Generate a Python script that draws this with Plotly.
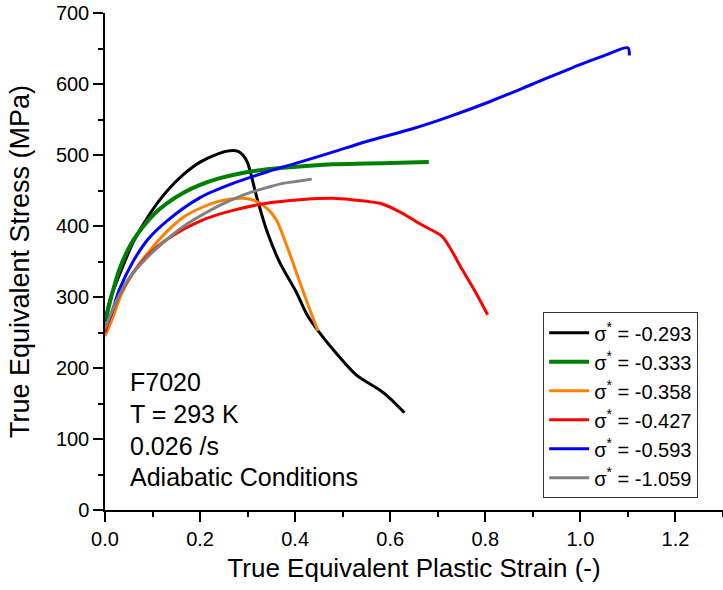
import plotly.graph_objects as go

# ---- data ----
black_x = [0, 0.01, 0.032, 0.06, 0.095, 0.13, 0.164, 0.2, 0.235, 0.263, 0.28, 0.29, 0.300, 0.319, 0.340, 0.368, 0.403, 0.425, 0.452, 0.49, 0.529, 0.578, 0.60, 0.630]
black_y = [265, 295, 334, 378, 418, 449, 472, 490, 501, 506, 505, 500, 489, 441, 394, 348, 306, 275, 249, 218, 190, 169, 157, 137]

green_x = [0, 0.004, 0.015, 0.032, 0.055, 0.080, 0.105, 0.130, 0.165, 0.200, 0.24, 0.284, 0.33, 0.374, 0.43, 0.479, 0.55, 0.62, 0.681]
green_y = [265, 275, 305, 342, 375, 399, 418, 432, 447, 458, 467, 474, 479, 482, 485, 487, 488, 489, 490]

orange_x = [0, 0.017, 0.035, 0.059, 0.095, 0.13, 0.164, 0.20, 0.235, 0.265, 0.290, 0.31, 0.326, 0.345, 0.361, 0.378, 0.396, 0.413, 0.431, 0.448]
orange_y = [245, 272, 305, 334, 366, 392, 412, 425, 434, 438, 439, 437, 432, 422, 408, 380, 347, 315, 282, 252]

red_x = [0, 0.011, 0.03, 0.059, 0.095, 0.130, 0.200, 0.269, 0.340, 0.410, 0.479, 0.520, 0.578, 0.620, 0.668, 0.708, 0.725, 0.752, 0.781, 0.805]
red_y = [250, 272, 302, 334, 362, 381, 407, 422, 432, 437, 439, 437, 432, 420, 401, 386, 370, 338, 305, 275]

blue_x = [0, 0.011, 0.03, 0.059, 0.09, 0.130, 0.200, 0.269, 0.340, 0.410, 0.479, 0.550, 0.647, 0.72, 0.809, 0.90, 0.998, 1.05, 1.10, 1.103]
blue_y = [258, 272, 310, 350, 381, 407, 440, 460, 476, 490, 504, 519, 537, 553, 575, 600, 627, 640, 651, 640]

gray_x = [0, 0.01, 0.025, 0.05, 0.095, 0.13, 0.164, 0.2, 0.235, 0.27, 0.305, 0.34, 0.374, 0.405, 0.435]
gray_y = [255, 272, 296, 326, 360, 381, 399, 414, 427, 438, 447, 454, 460, 463, 466]

series_names = ["-0.293", "-0.333", "-0.358", "-0.427", "-0.593", "-1.059"]
series_colors = ["#000000", "#008000", "#FF8000", "#FF0000", "#0000FF", "#808080"]
series_x = [black_x, green_x, orange_x, red_x, blue_x, gray_x]
series_y = [black_y, green_y, orange_y, red_y, blue_y, gray_y]
series_widths = [3, 4, 3, 3, 3, 3]

info_lines = ["F7020", "T = 293 K", "0.026 /s", "Adiabatic Conditions"]
info_y = [180.7, 135, 90, 46.5]

FONT = "Liberation Sans, Arial, sans-serif"

fig = go.Figure()
for nm, c, xs, ys, w in zip(series_names, series_colors, series_x, series_y, series_widths):
    fig.add_trace(go.Scatter(
        x=xs, y=ys, mode="lines", name="σ<sup>*</sup> = " + nm,
        line=dict(color=c, width=w, shape="spline", smoothing=0.8),
    ))

for t, yy in zip(info_lines, info_y):
    fig.add_annotation(x=0.037, xref="paper", y=yy, yref="y", text=t,
                       showarrow=False, xanchor="left", yanchor="middle",
                       font=dict(family=FONT, size=25, color="black"))

fig.update_layout(
    width=723, height=590,
    margin=dict(l=105, r=0, t=13, b=80, autoexpand=False),
    paper_bgcolor="white", plot_bgcolor="white",
    font=dict(family=FONT, color="black"),
    showlegend=True,
    legend=dict(x=0.709, y=0.398, xanchor="left", yanchor="top",
                bordercolor="#333333", borderwidth=1, bgcolor="white",
                font=dict(family=FONT, size=20, color="black"),
                tracegroupgap=0, itemwidth=40),
)
fig.update_xaxes(
    range=[0, 1.3], dtick=0.2, tick0=0, tickformat=".1f", automargin=False,
    showline=True, linecolor="black", linewidth=1.5, mirror=False,
    ticks="outside", ticklen=10, tickwidth=1.5, tickcolor="black",
    minor=dict(dtick=0.1, ticks="outside", ticklen=5, tickwidth=1.5, tickcolor="black"),
    showgrid=False, zeroline=False,
    tickfont=dict(family=FONT, size=20, color="black"),
    title=dict(text="True Equivalent Plastic Strain (-)", font=dict(family=FONT, size=26, color="black"), standoff=10),
)
fig.update_yaxes(
    range=[0, 700], dtick=100, tick0=0, automargin=False,
    showline=True, linecolor="black", linewidth=1.5, mirror=False,
    ticks="outside", ticklen=10, tickwidth=1.5, tickcolor="black",
    minor=dict(dtick=50, ticks="outside", ticklen=5, tickwidth=1.5, tickcolor="black"),
    showgrid=False, zeroline=False,
    tickfont=dict(family=FONT, size=20, color="black"),
    title=dict(text="True Equivalent Stress (MPa)", font=dict(family=FONT, size=27, color="black"), standoff=18),
)

fig.write_html("out.html", config={"displayModeBar": False},
               post_script="document.body.style.margin='0px';")
